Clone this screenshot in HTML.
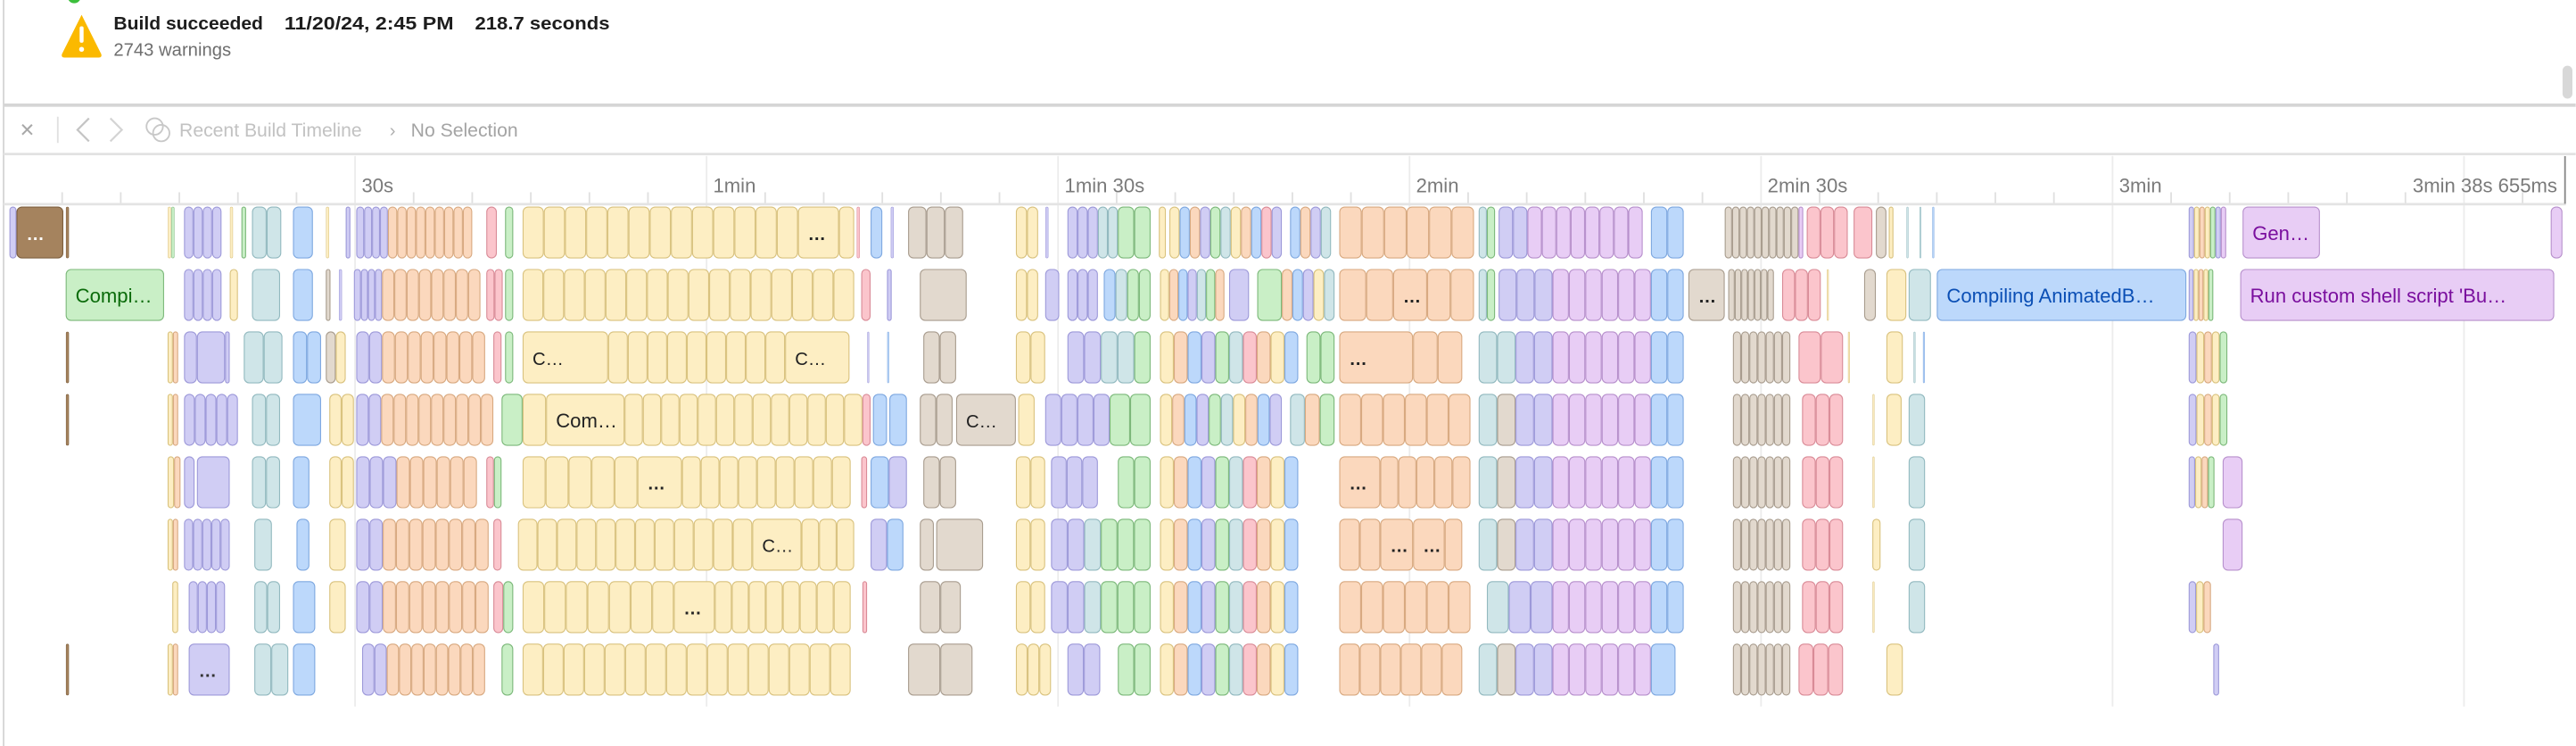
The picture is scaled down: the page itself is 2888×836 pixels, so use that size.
<!DOCTYPE html>
<html><head><meta charset="utf-8"><style>
html,body{margin:0;padding:0;background:#fff;overflow:hidden}
svg{display:block}
text{font-family:"Liberation Sans",sans-serif}
</style></head><body>
<svg id="chart" width="2888" height="836" viewBox="0 0 1568 454" xmlns="http://www.w3.org/2000/svg">
<rect x="0" y="0" width="1568" height="454" fill="#fff"/>
<line x1="2" y1="0" x2="2" y2="454" stroke="#d6d6d6" stroke-width="1"/>
<circle cx="45" cy="-2" r="4" fill="#3cbf3c"/>
<g>
<path d="M49.5 9 L61.5 33 Q62 35 60 35 L39 35 Q37 35 37.5 33 Z" fill="#fbb900"/>
<rect x="48.3" y="16" width="2.4" height="10" rx="1.1" fill="#fff"/>
<circle cx="49.5" cy="30" r="1.5" fill="#fff"/>
</g>
<text x="69" y="18" font-size="11" font-weight="bold" fill="#1d1d1d" textLength="91" lengthAdjust="spacingAndGlyphs">Build succeeded</text>
<text x="173" y="18" font-size="11" font-weight="bold" fill="#1d1d1d" textLength="103" lengthAdjust="spacingAndGlyphs">11/20/24, 2:45 PM</text>
<text x="289" y="18" font-size="11" font-weight="bold" fill="#1d1d1d" textLength="82" lengthAdjust="spacingAndGlyphs">218.7 seconds</text>
<text x="69" y="34" font-size="11" fill="#6e6e6e">2743 warnings</text>
<rect x="1560" y="40" width="6" height="20" rx="3" fill="#d8d8d8"/>
<rect x="2" y="63" width="1566" height="2" fill="#d6d6d6"/>
<text x="12" y="84" font-size="15" fill="#a8a8a8">×</text>
<line x1="35" y1="71" x2="35" y2="87" stroke="#e0e0e0"/>
<path d="M54 72 L47 79 L54 86" fill="none" stroke="#c4c4c4" stroke-width="1.2"/>
<path d="M67 72 L74 79 L67 86" fill="none" stroke="#d4d4d4" stroke-width="1.2"/>
<g fill="none" stroke="#c8c8c8" stroke-width="1"><circle cx="94" cy="77" r="5"/><circle cx="98" cy="81" r="5"/></g>
<text x="109" y="83" font-size="11.5" fill="#c2c2c2">Recent Build Timeline</text>
<text x="237" y="83" font-size="11" fill="#b0b0b0">›</text>
<text x="250" y="83" font-size="11.5" fill="#a4a4a4">No Selection</text>
<rect x="2" y="93" width="1566" height="1.5" fill="#e2e2e2"/>
<g id="axis"></g>
<rect x="2" y="123.5" width="1560" height="1.5" fill="#e4e4e4"/>
<line x1="1561.5" y1="95" x2="1561.5" y2="124" stroke="#888" stroke-width="1"/>
<g id="lanes"></g>
</svg>
<script>
const tickSeconds = [30, 60, 90, 120, 150, 180];
const tickLabels = ["30s", "1min", "1min 30s", "2min", "2min 30s", "3min"];
const endSecond = 218.655;
const endLabel = "3min 38s 655ms";

const lane1 = [[0.5,1.1,"l"],[1.1,5.1,"B","…"],[5.3,5.6,"B"],[14.0,14.6,"yg"],[15.4,18.6,"llll"],[19.3,19.6,"y"],[20.3,20.7,"g"],[21.2,23.7,"tt"],[24.7,26.4,"b"],[27.5,27.8,"y"],[29.2,29.6,"l"],[30.1,32.8,"llll"],[32.8,40.0,"ooooooooo"],[41.2,42.1,"p"],[42.8,43.5,"g"],[44.3,67.8,"yyyyyyyyyyyyy"],[67.8,71.3,"y","…"],[71.3,72.6,"y"],[72.8,73.1,"p"],[74.0,75.0,"b"],[75.7,76.0,"l"],[77.2,81.9,"kkk"],[86.4,88.3,"yy"],[88.9,89.2,"l"],[90.8,93.4,"lll"],[93.4,95.1,"tt"],[95.1,97.9,"gg"],[98.6,99.2,"y"],[99.5,109.1,"ybolgtyobpl"],[109.8,113.3,"bolt"],[114.0,125.5,"oooooo"],[125.9,127.3,"tg"],[127.6,139.9,"lluuuuuuuu"],[140.6,143.4,"bb"],[146.9,153.2,"kkkkkkkkkk"],[153.2,153.6,"u"],[153.9,157.4,"ppp"],[157.9,159.5,"p"],[159.8,160.7,"k"],[160.9,161.3,"y"],[162.4,162.6,"t"],[163.5,163.7,"t"],[164.6,164.8,"b"],[186.5,189.7,"lyoyglu"],[191.1,197.7,"u","Gen…"],[217.4,218.4,"u"]];
const lane2 = [[5.3,13.7,"g","Compi…"],[15.4,18.6,"llll"],[19.3,20.0,"y"],[21.2,23.6,"t"],[24.7,26.4,"b"],[27.5,27.9,"k"],[28.6,28.9,"l"],[29.9,32.3,"llll"],[32.3,40.7,"oooooooo"],[41.2,42.6,"pp"],[42.8,43.5,"g"],[44.3,72.6,"yyyyyyyyyyyyyyyy"],[73.2,74.0,"p"],[75.4,75.8,"l"],[78.2,82.2,"k"],[86.4,88.3,"yy"],[88.9,90.1,"l"],[90.8,93.4,"lll"],[93.9,97.9,"btgg"],[98.7,104.2,"yobltgo"],[104.6,106.3,"l"],[107.0,109.1,"g"],[109.1,113.6,"oblyt"],[114.0,118.6,"oo"],[118.6,121.5,"o","…"],[121.5,125.5,"oo"],[125.9,127.3,"tg"],[127.6,132.2,"lll"],[132.2,140.6,"uuuuuu"],[140.6,143.4,"bb"],[143.8,146.9,"k","…"],[147.2,151.1,"kkkkkkk"],[151.8,155.1,"ppp"],[155.6,155.8,"y"],[158.8,159.8,"k"],[160.7,162.4,"y"],[162.6,164.5,"t"],[165.0,186.3,"b","Compiling AnimatedB…"],[186.5,188.6,"lyoyg"],[190.9,217.7,"u","Run custom shell script 'Bu…"]];
const lane3 = [[5.3,5.6,"B"],[14.0,14.9,"yo"],[15.4,16.5,"l"],[16.5,18.9,"l"],[18.9,19.3,"l"],[20.5,22.2,"t"],[22.2,23.8,"t"],[24.7,27.1,"bb"],[27.5,29.2,"ky"],[30.1,41.1,"lloooooooo"],[41.8,42.5,"p"],[42.8,43.5,"g"],[44.3,51.6,"y","C…"],[51.6,66.7,"yyyyyyyyy"],[66.7,72.2,"y","C…"],[73.7,73.9,"l"],[75.4,75.6,"b"],[78.5,81.3,"kk"],[86.4,88.9,"yy"],[90.8,96.5,"lltt"],[96.5,97.9,"g"],[98.7,110.5,"yoblgtpoyb"],[111.2,113.6,"gg"],[114.0,120.3,"o","…"],[120.3,124.5,"oo"],[125.9,132.2,"ttll"],[132.2,140.6,"uuuuuu"],[140.6,143.4,"bb"],[147.6,152.5,"kkkkkkk"],[153.2,155.1,"p"],[155.1,157.0,"p"],[157.4,157.6,"y"],[160.7,162.1,"y"],[163.0,163.2,"t"],[163.8,164.0,"b"],[186.5,189.8,"lyoyg"]];
const lane4 = [[5.3,5.6,"B"],[14.0,14.9,"yo"],[15.4,20.0,"lllll"],[21.2,23.6,"tt"],[24.7,27.1,"b"],[27.8,29.9,"yy"],[30.1,41.8,"llooooooooo"],[42.5,44.3,"g"],[44.3,46.3,"y"],[46.3,53.0,"y","Com…"],[53.0,73.3,"yyyyyyyyyyyyy"],[73.3,74.0,"p"],[74.2,75.4,"b"],[75.6,77.1,"b"],[78.2,81.0,"kk"],[81.3,86.4,"k","C…"],[86.6,88.0,"y"],[88.9,94.4,"llll"],[94.4,97.9,"gg"],[98.7,109.1,"yoblgtyobl"],[109.8,113.6,"tog"],[114.0,125.2,"oooooo"],[125.9,132.2,"tkll"],[132.2,140.6,"uuuuuu"],[140.6,143.4,"bb"],[147.6,152.5,"kkkkkkk"],[153.5,157.0,"ppp"],[159.5,159.7,"y"],[160.7,162.0,"y"],[162.6,164.0,"t"],[186.5,189.8,"lyoyg"]];
const lane5 = [[14.0,15.1,"yo"],[15.4,16.3,"l"],[16.5,19.3,"l"],[21.2,23.6,"tt"],[24.7,26.1,"b"],[27.8,29.9,"yy"],[30.1,40.4,"llloooooo"],[41.2,42.5,"pg"],[44.3,54.1,"yyyyy"],[54.1,57.9,"y","…"],[57.9,72.3,"yyyyyyyyy"],[73.2,73.7,"p"],[74.0,77.1,"bl"],[78.5,81.3,"kk"],[86.4,88.9,"yy"],[89.4,93.4,"lll"],[95.1,97.9,"gg"],[98.7,110.5,"yoblgtpoyb"],[114.0,117.5,"o","…"],[117.5,125.2,"ooooo"],[125.9,132.2,"tkll"],[132.2,140.6,"uuuuuu"],[140.6,143.4,"bb"],[147.6,152.5,"kkkkkkk"],[153.5,157.0,"ppp"],[159.5,159.7,"y"],[162.6,164.0,"t"],[186.5,188.7,"lyog"],[189.4,191.1,"u"]];
const lane6 = [[14.0,14.9,"yo"],[15.4,19.3,"lllll"],[21.4,22.9,"t"],[25.0,26.1,"b"],[27.8,29.2,"y"],[30.1,41.4,"lloooooooo"],[41.8,42.5,"p"],[43.9,63.9,"yyyyyyyyyyyy"],[63.9,68.1,"y","C…"],[68.1,72.6,"yyy"],[74.0,76.8,"lb"],[78.2,79.4,"k"],[79.6,83.6,"k"],[86.4,88.9,"yy"],[89.4,97.9,"lltggg"],[98.7,110.5,"yoblgtpoyb"],[114.0,117.5,"oo"],[117.5,120.3,"o","…"],[120.3,123.0,"o","…"],[123.0,124.5,"o"],[125.9,132.2,"tkll"],[132.2,140.6,"uuuuuu"],[140.6,143.4,"bb"],[147.6,152.5,"kkkkkkk"],[153.5,157.0,"ppp"],[159.5,160.2,"y"],[162.6,164.0,"t"],[189.4,191.1,"u"]];
const lane7 = [[14.4,14.9,"y"],[15.8,18.9,"llll"],[21.4,23.6,"tt"],[24.7,26.6,"b"],[27.8,29.2,"y"],[30.1,41.4,"lloooooooo"],[41.8,43.5,"pg"],[44.3,57.2,"yyyyyyy"],[57.2,60.7,"y","…"],[60.7,72.3,"yyyyyyyy"],[73.3,73.7,"p"],[78.2,81.7,"kk"],[86.4,88.9,"yy"],[89.4,97.9,"lltggg"],[98.7,110.5,"yoblgtpoyb"],[114.0,125.2,"oooooo"],[126.6,132.2,"tll"],[132.2,140.6,"uuuuuu"],[140.6,143.4,"bb"],[147.6,152.5,"kkkkkkk"],[153.5,157.0,"ppp"],[159.5,159.7,"y"],[162.6,164.0,"t"],[186.5,188.4,"lyo"]];
const lane8 = [[5.3,5.6,"B"],[14.0,14.9,"yo"],[15.8,19.3,"l","…"],[21.4,24.3,"tt"],[24.7,26.6,"b"],[30.6,41.1,"lloooooooo"],[42.5,43.5,"g"],[44.3,72.3,"yyyyyyyyyyyyyyyy"],[77.2,82.7,"kk"],[86.4,89.4,"yyy"],[90.8,93.6,"ll"],[95.1,97.9,"gg"],[98.7,110.5,"yoblgtpoyb"],[114.0,124.5,"oooooo"],[125.9,132.2,"tkll"],[132.2,140.6,"uuuuuu"],[140.6,142.7,"b"],[147.6,152.5,"kkkkkkk"],[153.2,157.0,"ppp"],[160.7,162.1,"y"],[188.6,189.1,"l"]];
const lanes = [lane1, lane2, lane3, lane4, lane5, lane6, lane7, lane8];

const palette = {
  B:["#a5835e","#7d5f3e","#fff"], g:["#c9efc6","#7cb87a","#0a6b0a"], l:["#d0cdf4","#9d99d9","#333"],
  t:["#cfe5e8","#92b9bf","#333"], b:["#bcd8fb","#7ea8e0","#0b4fb5"], y:["#fdeec3","#d9c27e","#222"],
  o:["#fbd8bd","#d8a980","#222"], p:["#fbc5cc","#d98b97","#222"], u:["#e8cdf5","#b790cc","#7a0f9e"],
  k:["#e2d9ce","#a89c8e","#222"]
};
const X0 = 2, PX_PER_SEC = 214/30;
const xScale = s => X0 + s * PX_PER_SEC;
const LANE_TOP = 126, LANE_STEP = 38, LANE_H = 31;
const NS = "http://www.w3.org/2000/svg";
function mk(tag, attrs, parent){ const e=document.createElementNS(NS,tag); for(const k in attrs) e.setAttribute(k,attrs[k]); parent.appendChild(e); return e; }

const axis = document.getElementById('axis');
for (let s = 5; s < endSecond; s += 5) {
  const x = xScale(s);
  const major = s % 30 === 0;
  const t = mk('line',{x1:x,x2:x,y1:major?95:117,y2:major?430:124,stroke:major?'#ececec':'#e0e0e0','stroke-width':1},axis);
  
  
}
tickSeconds.forEach((s,i)=>{
  const t = mk('text',{x:xScale(s)+4,y:117,'font-size':12,fill:'#7a7a7a'},axis);
  t.textContent = tickLabels[i];
  
  
});
const endT = mk('text',{x:xScale(endSecond)-5,y:117,'font-size':12,fill:'#7a7a7a','text-anchor':'end'},axis);
endT.textContent = endLabel;



const lg = document.getElementById('lanes');
lanes.forEach((lane, li) => {
  const y = LANE_TOP + li * LANE_STEP;
  const g = mk('g',{},lg);
  
  
  lane.forEach(run => {
    const [s0, s1, cols, label] = run;
    const n = cols.length;
    const step = (s1 - s0) / n;
    for (let i = 0; i < n; i++) {
      const c = palette[cols[i]];
      const xa = xScale(s0 + i*step), xb = xScale(s0 + (i+1)*step);
      const w = Math.max(xb - xa - 0.6, 0.8);
      const r = mk('rect',{x:xa+0.3,y:y,width:w,height:LANE_H,rx:Math.min(3,w/2),fill:c[0],stroke:c[1],'stroke-width':w>2?0.6:0.3},g);
      
      
    }
    if (label) {
      const c = palette[cols[0]];
      const xa = xScale(s0);
      const t = mk('text',{x:xa+6,y:y+20,'font-size':label.length>2?12:11,fill:c[2],'font-weight':label==='…'?'bold':'normal'},g);
      t.textContent = label;
      
      
    }
  });
});
</script>
</body></html>
